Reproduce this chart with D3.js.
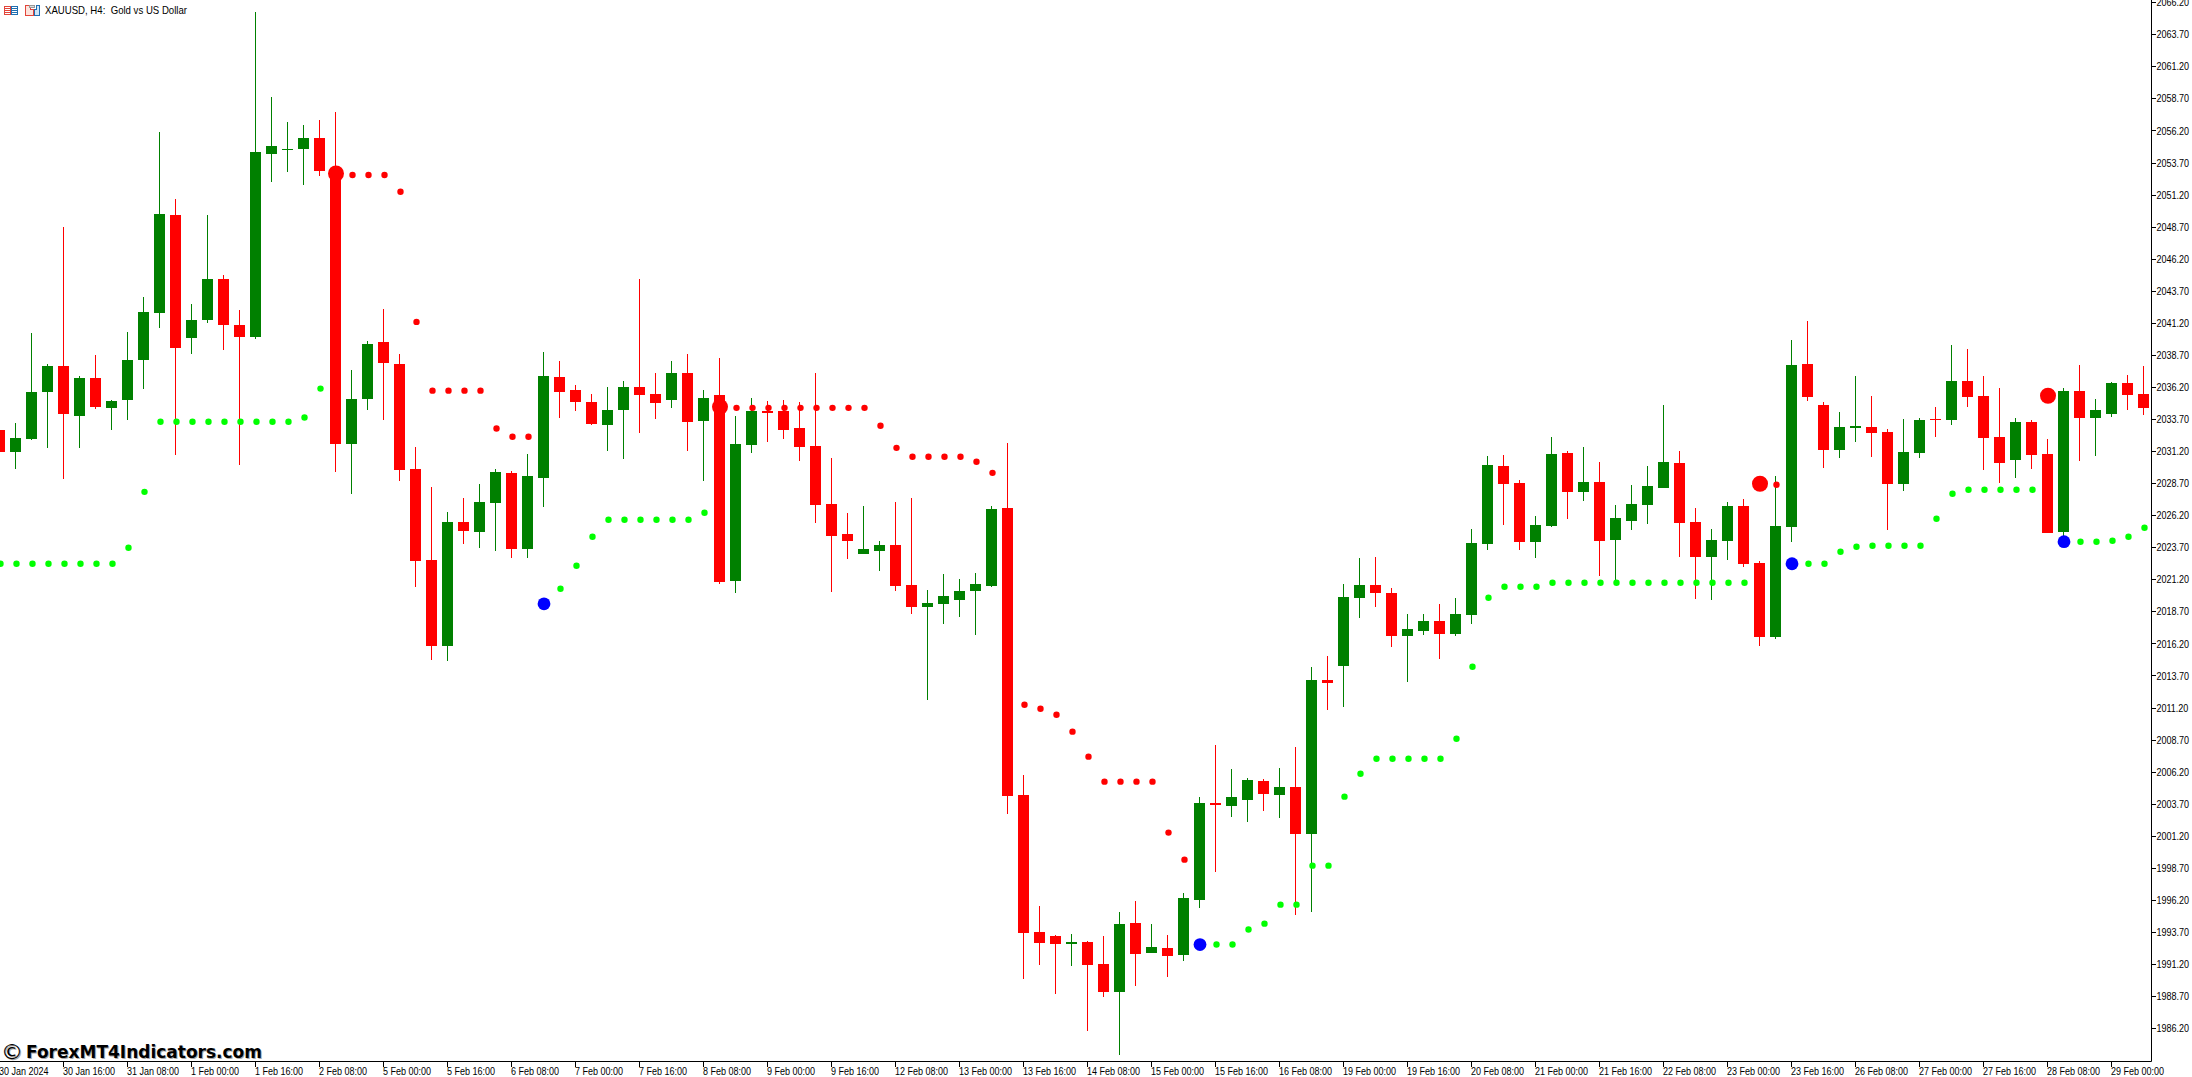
<![CDATA[<!DOCTYPE html>
<html><head><meta charset="utf-8">
<script src="https://cdn.jsdelivr.net/npm/d3@7/dist/d3.min.js"></script>
<style>html,body{margin:0;padding:0;background:#fff;overflow:hidden}svg{display:block}
text{font-family:"Liberation Sans",sans-serif;fill:#000}</style></head><body>
<svg id="c" width="2192" height="1077"></svg>
<script>
const n=null;
const title="XAUUSD, H4:\u00a0\u00a0Gold vs US Dollar";
const watermark="ForexMT4Indicators.com";
const highs=[2032.90,2033.44,2040.46,2038.04,2048.72,2037.10,2038.74,2035.23,2040.53,2043.26,
2056.12,2050.90,2042.72,2049.65,2044.98,2042.25,2065.47,2058.85,2056.90,2056.67,
2057.06,2057.68,2037.57,2039.83,2042.33,2038.82,2031.57,2028.45,2026.50,2027.60,
2028.69,2029.86,2029.70,2031.03,2038.98,2038.27,2036.40,2035.70,2036.25,2036.71,
2044.66,2037.34,2038.27,2038.82,2036.01,2038.51,2033.99,2035.39,2035.16,2035.23,
2035.08,2037.34,2030.71,2026.43,2026.97,2024.24,2027.28,2027.60,2020.43,2021.67,
2021.28,2021.75,2026.97,2031.88,2006.01,1995.80,1993.54,1993.61,1993.07,1993.46,
1995.33,1996.19,1994.39,1993.54,1996.81,2004.29,2008.34,2006.47,2005.77,2005.69,
2006.55,2008.19,2014.42,2015.28,2020.89,2022.92,2023.00,2020.58,2018.55,2018.55,
2019.33,2019.80,2025.18,2030.87,2030.95,2029.00,2026.19,2032.35,2031.26,2031.57,
2030.40,2027.05,2028.61,2030.09,2034.84,2031.26,2026.82,2025.18,2027.28,2027.52,
2022.69,2029.31,2039.91,2041.39,2035.08,2034.30,2037.10,2035.55,2032.97,2033.75,
2033.83,2034.69,2039.52,2039.21,2037.10,2036.17,2033.83,2033.68,2032.19,2036.17,
2037.96,2035.31,2036.64,2037.18,2037.88];
const lows=[2031.14,2029.86,2032.12,2031.49,2029.08,2031.49,2034.53,2032.90,2033.68,2036.05,
2040.81,2030.90,2038.82,2041.24,2039.09,2030.12,2039.99,2052.19,2052.97,2052.02,
2052.72,2029.58,2027.87,2034.45,2033.68,2028.92,2020.66,2014.97,2014.89,2024.01,
2023.70,2023.46,2022.92,2022.92,2026.89,2033.83,2034.34,2033.29,2031.26,2030.64,
2032.66,2033.75,2034.61,2031.26,2028.92,2020.89,2020.19,2031.10,2031.96,2032.19,
2030.48,2025.65,2020.27,2022.84,2023.23,2021.91,2020.35,2018.55,2011.85,2017.78,
2018.32,2016.92,2020.66,2002.97,1990.11,1991.20,1988.94,1991.12,1986.05,1988.70,
1984.18,1989.56,1992.13,1990.26,1991.51,1995.64,1998.45,2002.73,2002.34,2003.20,
2002.66,1995.09,1995.33,2011.07,2011.31,2018.24,2019.10,2015.98,2013.25,2016.92,
2015.05,2016.84,2017.78,2023.54,2025.49,2023.54,2022.92,2025.34,2025.96,2027.36,
2021.52,2021.20,2025.10,2025.57,2028.38,2023.00,2019.72,2019.65,2022.76,2022.22,
2016.06,2016.61,2024.17,2035.16,2029.93,2030.71,2031.92,2030.79,2025.10,2028.14,
2030.71,2032.35,2033.29,2034.69,2029.78,2028.77,2029.15,2029.86,2024.87,2024.48,
2030.48,2030.87,2033.91,2034.45,2034.06];
const opens=[2032.90,2031.14,2032.19,2035.82,2037.88,2033.99,2036.95,2034.61,2035.23,2038.31,
2042.01,2049.65,2040.03,2041.42,2044.66,2041.08,2040.14,2054.44,2054.68,2054.80,
2055.65,2053.08,2031.76,2035.27,2039.75,2038.04,2029.86,2022.76,2016.01,2025.73,
2024.95,2027.21,2029.54,2023.62,2029.15,2037.03,2036.01,2035.08,2033.29,2034.42,
2036.25,2035.70,2035.23,2037.34,2033.60,2035.62,2021.13,2031.73,2034.38,2034.38,
2033.05,2031.65,2027.13,2024.79,2023.23,2023.46,2023.93,2020.82,2019.10,2019.33,
2019.65,2020.35,2020.74,2026.82,2004.45,1993.77,1993.46,1992.83,1992.99,1991.28,
1989.09,1994.47,1992.13,1992.52,1991.98,1996.26,2003.82,2003.59,2004.06,2005.54,
2004.45,2005.07,2001.41,2013.41,2014.50,2019.80,2020.82,2020.19,2016.84,2017.23,
2018.01,2017.00,2018.48,2024.01,2030.09,2028.77,2024.17,2025.41,2031.10,2028.06,
2028.84,2024.32,2025.80,2027.05,2028.38,2030.32,2025.73,2023.00,2024.24,2026.97,
2022.53,2016.76,2025.34,2038.04,2034.84,2031.30,2033.05,2033.13,2032.74,2028.69,
2031.10,2033.75,2033.68,2036.71,2035.55,2032.35,2030.56,2033.52,2031.03,2024.95,
2035.94,2033.83,2034.14,2036.56,2035.70];
const closes=[2031.14,2032.27,2035.86,2037.88,2034.10,2036.95,2034.69,2035.16,2038.35,2042.09,
2049.73,2039.25,2041.47,2044.66,2041.08,2040.11,2054.56,2055.03,2054.80,2055.65,
2053.08,2031.76,2035.31,2039.60,2038.07,2029.78,2022.69,2016.01,2025.73,2025.02,
2027.28,2029.62,2023.62,2029.31,2037.10,2035.86,2035.08,2033.36,2034.45,2036.25,
2035.62,2035.00,2037.34,2033.52,2035.39,2021.05,2031.80,2034.38,2034.22,2032.90,
2031.57,2027.05,2024.63,2024.24,2023.62,2023.93,2020.74,2019.10,2019.41,2019.96,
2020.35,2020.89,2026.74,2004.37,1993.69,1992.91,1992.83,1992.99,1991.20,1989.09,
1994.39,1992.06,1992.60,1991.90,1996.42,2003.82,2003.67,2004.29,2005.62,2004.53,
2005.07,2001.41,2013.41,2013.18,2019.88,2020.82,2020.19,2016.84,2017.39,2018.01,
2017.00,2018.55,2024.09,2030.17,2028.69,2024.17,2025.49,2031.03,2028.06,2028.84,
2024.24,2026.04,2027.13,2028.53,2030.40,2025.65,2023.00,2024.32,2026.97,2022.45,
2016.76,2025.41,2037.96,2035.47,2031.30,2033.13,2033.21,2032.66,2028.69,2031.18,
2033.68,2033.71,2036.71,2035.47,2032.27,2030.32,2033.52,2030.95,2024.87,2035.94,
2033.83,2034.45,2036.56,2035.62,2034.61];
const greenDots=[2022.45,2022.45,2022.45,2022.45,2022.45,2022.45,2022.45,2022.45,2023.70,2028.06,
2033.53,2033.53,2033.53,2033.53,2033.53,2033.53,2033.53,2033.53,2033.53,2033.85,
2036.11,n,n,n,n,n,n,n,n,n,
n,n,n,n,n,2020.50,2022.30,2024.56,2025.88,2025.88,
2025.88,2025.88,2025.88,2025.88,2026.43,n,n,n,n,n,
n,n,n,n,n,n,n,n,n,n,
n,n,n,n,n,n,n,n,n,n,
n,n,n,n,n,n,1992.76,1992.76,1993.93,1994.39,
1995.87,1995.87,1998.91,1998.91,2004.29,2006.08,2007.25,2007.25,2007.25,2007.25,
2007.25,2008.81,2014.42,2019.80,2020.66,2020.66,2020.66,2020.97,2020.97,2020.97,
2020.97,2020.97,2020.97,2020.97,2020.97,2020.97,2020.97,2020.97,2020.97,2020.97,
n,n,n,2022.45,2022.45,2023.39,2023.78,2023.86,2023.86,2023.86,
2023.86,2025.96,2027.91,2028.22,2028.22,2028.22,2028.22,2028.22,n,n,
2024.17,2024.17,2024.24,2024.56,2025.26];
const redDots=[n,n,n,n,n,n,n,n,n,n,
n,n,n,n,n,n,n,n,n,n,
n,2052.88,2052.77,2052.77,2052.77,2051.46,2041.31,2035.95,2035.95,2035.95,
2035.95,2033.00,2032.35,2032.35,n,n,n,n,n,n,
n,n,n,n,n,2034.69,2034.61,2034.61,2034.61,2034.61,
2034.61,2034.61,2034.61,2034.61,2034.61,2033.21,2031.49,2030.79,2030.79,2030.79,
2030.79,2030.40,2029.54,n,2011.46,2011.15,2010.68,2009.36,2007.41,2005.46,
2005.46,2005.46,2005.46,2001.49,1999.38,n,n,n,n,n,
n,n,n,n,n,n,n,n,n,n,
n,n,n,n,n,n,n,n,n,n,
n,n,n,n,n,n,n,n,n,n,
2028.69,2028.61,n,n,n,n,n,n,n,n,
n,n,n,n,n,n,n,n,2035.55,n,
n,n,n,n,n];
const bigRedBars=[21,45,110,128];
const blueBars=[34,75,112,129];
const blueValues=[2019.33,1992.76,2022.45,2024.17];
const timeLabels=["30 Jan 2024","30 Jan 16:00","31 Jan 08:00","1 Feb 00:00","1 Feb 16:00","2 Feb 08:00","5 Feb 00:00","5 Feb 16:00","6 Feb 08:00","7 Feb 00:00","7 Feb 16:00","8 Feb 08:00","9 Feb 00:00","9 Feb 16:00","12 Feb 08:00","13 Feb 00:00","13 Feb 16:00","14 Feb 08:00","15 Feb 00:00","15 Feb 16:00","16 Feb 08:00","19 Feb 00:00","19 Feb 16:00","20 Feb 08:00","21 Feb 00:00","21 Feb 16:00","22 Feb 08:00","23 Feb 00:00","23 Feb 16:00","26 Feb 08:00","27 Feb 00:00","27 Feb 16:00","28 Feb 08:00","29 Feb 00:00"];
const timeTickBars=[0,4,8,12,16,20,24,28,32,36,40,44,48,52,56,60,64,68,72,76,80,84,88,92,96,100,104,108,112,116,120,124,128,132];
const priceTicks=[2066.2,2063.7,2061.2,2058.7,2056.2,2053.7,2051.2,2048.7,2046.2,2043.7,2041.2,2038.7,2036.2,2033.7,2031.2,2028.7,2026.2,2023.7,2021.2,2018.7,2016.2,2013.7,2011.2,2008.7,2006.2,2003.7,2001.2,1998.7,1996.2,1993.7,1991.2,1988.7,1986.2];

const svg=d3.select("#c");
const axisX=2151.5, axisY=1061.5;
const x=d3.scaleLinear().domain([0,134.5]).range([-0.5,axisX]);
const y=d3.scaleLinear().domain([2066.41,1983.64]).range([0,axisY]);
const UP="#008000",DOWN="#ff0000";
const bars=d3.range(opens.length);
const color=i=>closes[i]>=opens[i]?UP:DOWN;
const bw=11;

const gBars=svg.append("g");
gBars.selectAll("rect.w").data(bars).join("rect").attr("class","w")
 .attr("x",i=>x(i)-0.5).attr("width",1)
 .attr("y",i=>Math.round(y(highs[i])))
 .attr("height",i=>Math.max(1,Math.round(y(lows[i]))-Math.round(y(highs[i]))))
 .attr("fill",color).attr("shape-rendering","crispEdges");
gBars.selectAll("rect.b").data(bars).join("rect").attr("class","b")
 .attr("x",i=>x(i)-bw/2).attr("width",bw)
 .attr("y",i=>Math.round(y(Math.max(opens[i],closes[i]))))
 .attr("height",i=>Math.max(1,Math.round(y(Math.min(opens[i],closes[i])))-Math.round(y(Math.max(opens[i],closes[i])))))
 .attr("fill",color).attr("shape-rendering","crispEdges");

const gDots=svg.append("g");
gDots.selectAll("circle.g").data(bars.filter(i=>greenDots[i]!==null)).join("circle").attr("class","g")
 .attr("cx",i=>x(i)+1).attr("cy",i=>y(greenDots[i])).attr("r",3.2).attr("fill","#00ff00");
gDots.selectAll("circle.r").data(bars.filter(i=>redDots[i]!==null&&!bigRedBars.includes(i))).join("circle").attr("class","r")
 .attr("cx",i=>x(i)+1).attr("cy",i=>y(redDots[i])).attr("r",3.2).attr("fill","#ff0000");
gDots.selectAll("circle.br").data(bigRedBars).join("circle").attr("class","br")
 .attr("cx",i=>x(i)+0.5).attr("cy",i=>y(redDots[i])).attr("r",8).attr("fill","#ff0000");
gDots.selectAll("circle.bb").data(blueBars).join("circle").attr("class","bb")
 .attr("cx",i=>x(i)+0.5).attr("cy",(i,k)=>y(blueValues[k])).attr("r",6.4).attr("fill","#0000ff");

// axes
const shrink=function(f){d3.select(this).attr("textLength",this.getComputedTextLength()*f).attr("lengthAdjust","spacingAndGlyphs");};
const ax=svg.append("g").attr("transform",`translate(0,${axisY})`)
 .call(d3.axisBottom(x).offset(0).tickValues(timeTickBars).tickSize(5).tickSizeOuter(0).tickFormat((d,k)=>timeLabels[k]));
ax.selectAll("text").attr("text-anchor","start").attr("x",-0.5).attr("y",13).attr("dy",0)
 .style("font-size","10px").style("font-family",'"Liberation Sans"').each(function(){shrink.call(this,0.9);});
const ay=svg.append("g").attr("transform",`translate(${axisX},0)`)
 .call(d3.axisRight(y).offset(0).tickValues(priceTicks).tickSize(4).tickPadding(1).tickSizeOuter(0).tickFormat(d3.format(".2f")));
ay.selectAll("text").style("font-size","10px").style("font-family",'"Liberation Sans"').attr("dy","0.36em").each(function(){shrink.call(this,0.9);});
svg.selectAll(".domain").attr("stroke","#000").attr("stroke-width",1);
svg.selectAll(".tick line").attr("stroke","#000").attr("shape-rendering","crispEdges");

// title + icons
const ic=svg.append("g").attr("shape-rendering","crispEdges");
ic.append("rect").attr("x",4.5).attr("y",6.5).attr("width",6).attr("height",8).attr("fill","#fff").attr("stroke","#e2453a");
ic.append("rect").attr("x",11.5).attr("y",6.5).attr("width",6).attr("height",8).attr("fill","#fff").attr("stroke","#1f6fb2");
[8,10,12].forEach(v=>{ic.append("rect").attr("x",5).attr("y",v).attr("width",5).attr("height",1).attr("fill","#e2453a");
 ic.append("rect").attr("x",12).attr("y",v).attr("width",5).attr("height",1).attr("fill","#1f6fb2");});
ic.append("path").attr("d","M25.5 5.5h5v4h3v5.5h-8z").attr("fill","#fde3dc").attr("stroke","#e2453a");
ic.append("path").attr("d","M34.5 9.5h2v-4h3v9.5h-5z").attr("fill","#cfe6f7").attr("stroke","#1f6fb2");
ic.append("rect").attr("x",29.5).attr("y",5.5).attr("width",5).attr("height",2).attr("fill","#ddd").attr("stroke","#999");
svg.append("text").attr("x",45).attr("y",14).attr("textLength",142).attr("lengthAdjust","spacingAndGlyphs")
 .style("font-size","11px").text(title);

// watermark
const wm=(dx,dy,col)=>{
 svg.append("text").attr("x",1+dx).attr("y",1058.5+dy).style("font-family",'"DejaVu Sans"').style("font-size","22px").style("fill",col).text("\u00a9");
 svg.append("text").attr("x",26+dx).attr("y",1058+dy).attr("textLength",236).attr("lengthAdjust","spacingAndGlyphs")
  .style("font-family",'"DejaVu Sans"').style("font-weight","bold").style("font-size","18px").style("fill",col).text(watermark);
};
wm(1,1,"#aaaaaa");wm(0,0,"#000000");
</script></body></html>]]>
